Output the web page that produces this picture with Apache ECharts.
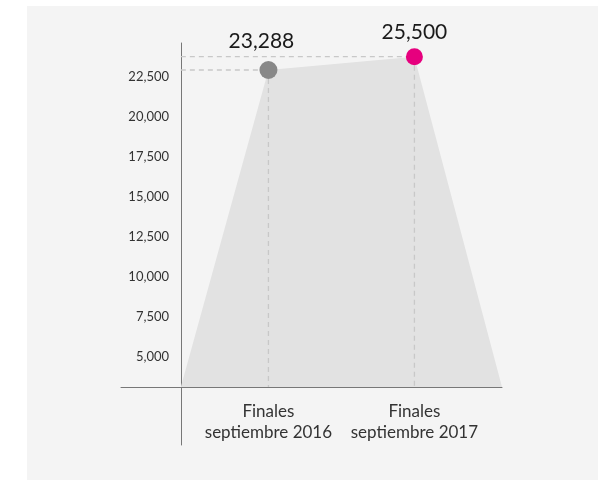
<!DOCTYPE html>
<html>
<head>
<meta charset="utf-8">
<script src="https://cdn.jsdelivr.net/npm/echarts@6/dist/echarts.min.js"></script>
<style>
  html, body { margin: 0; padding: 0; background: #ffffff; }
  #bg { position: absolute; left: 27px; top: 6px; width: 571px; height: 474px; background: #f4f4f4; }
  #chart { position: absolute; left: 0; top: 0; width: 608px; height: 480px; }
</style>
</head>
<body>
<div id="bg"></div>
<div id="chart"></div>
<script>
// ---- data ----
const categories = ['Finales\nseptiembre 2016', 'Finales\nseptiembre 2017'];
const values = [23288, 25500];
const pointColors = ['#888888', '#e6007e'];
const yTicks = [5000, 7500, 10000, 12500, 15000, 17500, 20000, 22500];

// ---- layout helpers (positions on the value x axis) ----
const catX = [0.6, 1.6];      // x position of each category
const edgeX = [0, 2.2];       // trapezoid bottom corners
const BASE = -29431;          // baseline of the hidden data axis (x-axis line)

const fmt = v => v.toLocaleString('en-US');
const font = 'Lato, "Open Sans", sans-serif';

const chart = echarts.init(document.getElementById('chart'), null, { renderer: 'canvas' });

const polygon = [[edgeX[0], BASE], [catX[0], values[0]], [catX[1], values[1]], [edgeX[1], BASE]];

const guideSeries = [];
values.forEach((v, i) => {
  guideSeries.push({
    type: 'line', yAxisIndex: 1, symbol: 'none', silent: true, z: 3,
    lineStyle: { color: '#c8c8c8', width: 1.3, type: [5, 4] },
    data: [[0, v], [catX[i], v]]
  });
  guideSeries.push({
    type: 'line', yAxisIndex: 1, symbol: 'none', silent: true, z: 3,
    lineStyle: { color: '#c8c8c8', width: 1.3, type: [5, 4] },
    data: [[catX[i], v], [catX[i], BASE]]
  });
});

const labelCfg = [
  { distance: 9, offset: [-7, 0] },
  { distance: 5, offset: [0, 0] }
];

chart.setOption({
  animation: false,
  backgroundColor: 'transparent',
  textStyle: { fontFamily: font },
  grid: { left: 121, right: 106, top: 43, bottom: 35, containLabel: false },
  xAxis: {
    type: 'value',
    min: -0.41, max: 2.2,
    offset: -58,
    splitLine: { show: false },
    axisTick: { show: false },
    axisLine: { onZero: false, lineStyle: { color: '#777777', width: 1 } },
    axisLabel: {
      customValues: catX,
      formatter: v => { const i = catX.indexOf(v); return i >= 0 ? categories[i] : ''; },
      color: '#333333', fontSize: 17, lineHeight: 21, margin: 14, fontFamily: font
    }
  },
  yAxis: [
    {
      type: 'value',
      min: -481, max: 24644,
      offset: -60,
      splitLine: { show: false },
      axisTick: { show: false },
      axisLine: { show: true, onZero: false, lineStyle: { color: '#777777', width: 1 } },
      axisLabel: {
        customValues: yTicks,
        formatter: v => fmt(v),
        color: '#333333', fontSize: 13, margin: 12, fontFamily: font
      }
    },
    {
      type: 'value',
      min: -39076, max: 27778,
      show: false,
      splitLine: { show: false }
    }
  ],
  series: [
    {
      type: 'line', yAxisIndex: 1, symbol: 'none', silent: true, z: 1,
      lineStyle: { width: 0 },
      areaStyle: { color: '#e2e2e2', opacity: 1, origin: BASE },
      data: polygon
    },
    ...guideSeries,
    {
      type: 'scatter', yAxisIndex: 1, z: 5,
      data: values.map((v, i) => ({
        value: [catX[i], v],
        symbolSize: i === 0 ? 18 : 17,
        itemStyle: { color: pointColors[i], opacity: 1 },
        label: {
          show: true, position: 'top',
          distance: labelCfg[i].distance, offset: labelCfg[i].offset,
          formatter: fmt(v), color: '#1a1a1a', fontSize: 21, fontFamily: font
        }
      }))
    }
  ]
});
</script>
</body>
</html>
